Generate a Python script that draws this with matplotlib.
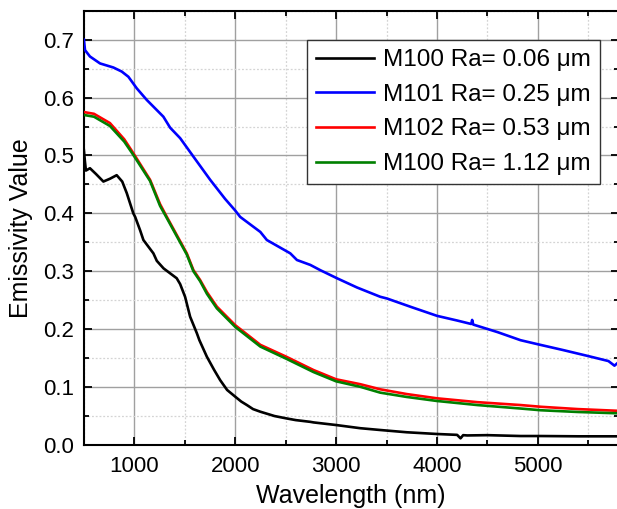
import matplotlib
matplotlib.use("Agg")
import matplotlib.pyplot as plt
from matplotlib.ticker import MultipleLocator

plt.rcParams['font.family'] = ['Liberation Sans', 'DejaVu Sans']

labels = ["M100 Ra= 0.06 μm", "M101 Ra= 0.25 μm", "M102 Ra= 0.53 μm", "M100 Ra= 1.12 μm"]
colors = ["#000000", "#0000ff", "#ff0000", "#008000"]

# M100 Ra=0.06
x_black = [500, 510, 520, 560, 620, 693, 760, 825, 880, 925, 990, 1008, 1057, 1090, 1189,
           1223, 1290, 1355, 1420, 1454, 1503, 1553, 1620, 1645, 1719, 1790, 1851, 1920,
           2000, 2060, 2116, 2177, 2249, 2390, 2506, 2600, 2744, 2777, 3000, 3240, 3438,
           3700, 4002, 4200, 4234, 4260, 4300, 4500, 4829, 5031, 5400, 5800]
y_black = [0.509, 0.49, 0.474, 0.478, 0.468, 0.455, 0.46, 0.466, 0.455, 0.435, 0.40, 0.394,
           0.371, 0.354, 0.331, 0.318, 0.305, 0.2965, 0.288, 0.278, 0.256, 0.2216, 0.193,
           0.181, 0.1525, 0.13, 0.112, 0.095, 0.0835, 0.075, 0.069, 0.062, 0.0575, 0.050,
           0.046, 0.043, 0.040, 0.039, 0.0345, 0.029, 0.0259, 0.022, 0.019, 0.0175, 0.0115,
           0.017, 0.0165, 0.017, 0.0155, 0.0155, 0.015, 0.015]

# M101 Ra=0.25
x_blue = [500, 511, 560, 660, 792, 875, 941, 1024, 1123, 1288, 1355, 1454, 1586, 1752,
          1900, 2000, 2049, 2249, 2314, 2546, 2612, 2745, 2843, 3009, 3208, 3438, 3505,
          3750, 4002, 4200, 4340, 4349, 4360, 4600, 4829, 5000, 5250, 5490, 5700, 5760, 5800]
y_blue = [0.70, 0.682, 0.671, 0.659, 0.652, 0.645, 0.636, 0.616, 0.596, 0.567, 0.548, 0.530,
          0.498, 0.458, 0.425, 0.405, 0.394, 0.368, 0.354, 0.331, 0.3195, 0.311, 0.302,
          0.288, 0.272, 0.256, 0.253, 0.238, 0.223, 0.215, 0.209, 0.216, 0.208, 0.195,
          0.181, 0.174, 0.164, 0.154, 0.145, 0.137, 0.143]

# M102 Ra=0.53
x_red = [500, 600, 758, 900, 990, 1156, 1255, 1322, 1520, 1586, 1652, 1720, 1818, 2000,
         2249, 2506, 2776, 3000, 3240, 3438, 3700, 4002, 4400, 4829, 5031, 5400, 5800]
y_red = [0.575, 0.572, 0.556, 0.528, 0.504, 0.458, 0.416, 0.394, 0.331, 0.302, 0.285, 0.264,
         0.239, 0.207, 0.173, 0.1525, 0.1295, 0.1135, 0.105, 0.0962, 0.088, 0.0806, 0.074,
         0.069, 0.066, 0.062, 0.059]

# M100 Ra=1.12
x_green = [500, 600, 758, 900, 990, 1156, 1255, 1322, 1520, 1586, 1652, 1720, 1818, 2000,
           2249, 2506, 2776, 3000, 3240, 3438, 3700, 4002, 4400, 4829, 5031, 5400, 5800]
y_green = [0.570, 0.567, 0.551, 0.524, 0.501, 0.456, 0.413, 0.392, 0.329, 0.300, 0.283, 0.261,
           0.236, 0.204, 0.170, 0.149, 0.126, 0.110, 0.1005, 0.0904, 0.083, 0.076, 0.069,
           0.063, 0.060, 0.057, 0.0547]

series = [(x_black, y_black), (x_blue, y_blue), (x_red, y_red), (x_green, y_green)]

W, H = 617, 509
fig = plt.figure(figsize=(W / 100, H / 100), dpi=100)
ax = fig.add_axes([83.9 / W, (H - 445) / H, (618.5 - 83.9) / W, (445 - 10.75) / H])

for (xs, ys), c, lab in zip(series, colors, labels):
    ax.plot(xs, ys, color=c, lw=1.9, label=lab, zorder=3)

ax.set_xlim(500, 5800)
ax.set_ylim(0, 0.75)
ax.xaxis.set_major_locator(MultipleLocator(1000))
ax.xaxis.set_minor_locator(MultipleLocator(500))
ax.yaxis.set_major_locator(MultipleLocator(0.1))
ax.yaxis.set_minor_locator(MultipleLocator(0.05))
ax.yaxis.set_major_formatter(matplotlib.ticker.FormatStrFormatter('%.1f'))

ax.grid(which='major', color='#a0a0a0', lw=1.0, ls='-', zorder=0)
ax.grid(which='minor', color='#d4d4d4', lw=0.9, ls=(0, (1.5, 1.5)), zorder=0)
ax.set_axisbelow(True)

ax.tick_params(which='both', direction='in', top=True, right=True, width=1.3)
ax.tick_params(which='major', length=6, labelsize=16)
ax.tick_params(axis='y', which='major', pad=7)
ax.tick_params(axis='x', which='major', pad=8)
ax.tick_params(which='minor', length=3.5)
for s in ax.spines.values():
    s.set_linewidth(1.5)

ax.set_xlabel("Wavelength (nm)", fontsize=18, labelpad=5)
ax.set_ylabel("Emissivity Value", fontsize=18, labelpad=7)

leg = ax.legend(loc='upper right', bbox_to_anchor=(0.965, 0.933), borderaxespad=0,
                fontsize=17.5, frameon=True, fancybox=False, edgecolor='#333333',
                framealpha=1, handlelength=2.4, handletextpad=0.35, labelspacing=0.52,
                borderpad=0.38)
leg.get_frame().set_linewidth(1.0)

fig.savefig("out.png", dpi=100)
